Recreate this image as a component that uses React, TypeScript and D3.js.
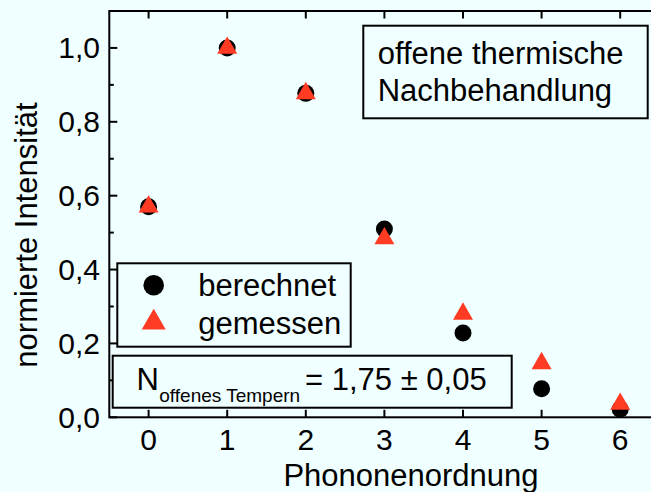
import React from "react";
import * as d3 from "d3";

// Phonon order on the x axis
const orders = [0, 1, 2, 3, 4, 5, 6];
// Normalised intensity: calculated and measured
const berechnet = [0.57, 1.0, 0.877, 0.51, 0.228, 0.077, 0.022];
const gemessen = [0.57, 1.0, 0.877, 0.484, 0.28, 0.146, 0.036];
const xTicks = [0, 1, 2, 3, 4, 5, 6];
const yTicks = [0, 0.2, 0.4, 0.6, 0.8, 1.0];
const yMinor = [0.1, 0.3, 0.5, 0.7, 0.9];

const W = 651;
const H = 492;
const BG = "#f0ffff";
const RED = "#ff3b24";
const FONT = "'Liberation Sans', Arial, Helvetica, sans-serif";

export default function App() {
  const x = d3.scaleLinear().domain([-0.5, 6.5]).range([109.3, 659.5]);
  const y = d3.scaleLinear().domain([0, 1.1]).range([417.3, 11]);
  const fmt = (v: number) => v.toFixed(1).replace(".", ",");

  const tri = d3.symbol(d3.symbolTriangle, 173)()!;
  const triLegend = d3.symbol(d3.symbolTriangle, 250)()!;

  const [x0, x1] = x.range();
  const [yb, yt] = y.range();

  return (
    <svg
      width={W}
      height={H}
      style={{ position: "absolute", left: 0, top: 0, display: "block" }}
      fontFamily={FONT}
    >
      <rect x={0} y={0} width={W} height={H} fill={BG} />

      {/* data points: calculated circles beneath measured triangles */}
      {orders.map((o, i) => (
        <circle key={"c" + i} cx={x(o)} cy={y(berechnet[i])} r={8.5} fill="#000" />
      ))}
      {orders.map((o, i) => (
        <path
          key={"t" + i}
          d={tri}
          transform={`translate(${x(o)},${y(gemessen[i])})`}
          fill={RED}
        />
      ))}

      {/* frame */}
      <rect
        x={x0}
        y={yt}
        width={x1 - x0}
        height={yb - yt}
        fill="none"
        stroke="#000"
        strokeWidth={2}
      />

      {/* x ticks, bottom and top, pointing inward */}
      {xTicks.map((t) => (
        <g key={"xt" + t}>
          <line x1={x(t)} x2={x(t)} y1={yb} y2={yb - 7.5} stroke="#000" strokeWidth={2} />
          <line x1={x(t)} x2={x(t)} y1={yt} y2={yt + 7.5} stroke="#000" strokeWidth={2} />
          <text
            x={x(t)}
            y={449.5}
            fontSize={30}
            textAnchor="middle"
            fill="#000"
          >
            {t}
          </text>
        </g>
      ))}

      {/* y ticks */}
      {yTicks.map((t) => (
        <g key={"yt" + t}>
          <line x1={x0} x2={x0 + 8} y1={y(t)} y2={y(t)} stroke="#000" strokeWidth={2} />
          <text
            x={100}
            y={y(t) + 10.5}
            fontSize={30}
            textAnchor="end"
            fill="#000"
          >
            {fmt(t)}
          </text>
        </g>
      ))}
      {yMinor.map((t) => (
        <line key={"ym" + t} x1={x0} x2={x0 + 4.5} y1={y(t)} y2={y(t)} stroke="#000" strokeWidth={2} />
      ))}

      {/* axis titles */}
      <text x={411} y={485.5} fontSize={31} textAnchor="middle" fill="#000">
        Phononenordnung
      </text>
      <text
        transform="translate(37,235) rotate(-90)"
        fontSize={31}
        textAnchor="middle"
        fill="#000"
      >
        normierte Intensität
      </text>

      {/* annotation box */}
      <rect x={363.3} y={25.7} width={284.4} height={92.6} fill={BG} stroke="#000" strokeWidth={2} />
      <text x={377.7} y={63.5} fontSize={31} fill="#000">
        offene thermische
      </text>
      <text x={377.7} y={100.5} fontSize={31} fill="#000">
        Nachbehandlung
      </text>

      {/* legend */}
      <rect x={117.3} y={263.3} width={233.4} height={83.4} fill={BG} stroke="#000" strokeWidth={2} />
      <circle cx={153.7} cy={285.3} r={10.3} fill="#000" />
      <path d={triLegend} transform="translate(153.7,322.5)" fill={RED} />
      <text x={198.3} y={295.5} fontSize={31} fill="#000">
        berechnet
      </text>
      <text x={198.3} y={334} fontSize={31} fill="#000">
        gemessen
      </text>

      {/* fitted parameter box */}
      <rect x={112.7} y={355.7} width={399} height={52} fill={BG} stroke="#000" strokeWidth={2} />
      <text x={136.5} y={390} fontSize={31} fill="#000">
        N
      </text>
      <text x={159.3} y={401.7} fontSize={19} fill="#000">
        offenes Tempern
      </text>
      <text x={305} y={390} fontSize={31} fill="#000">
        = 1,75 ± 0,05
      </text>
    </svg>
  );
}
